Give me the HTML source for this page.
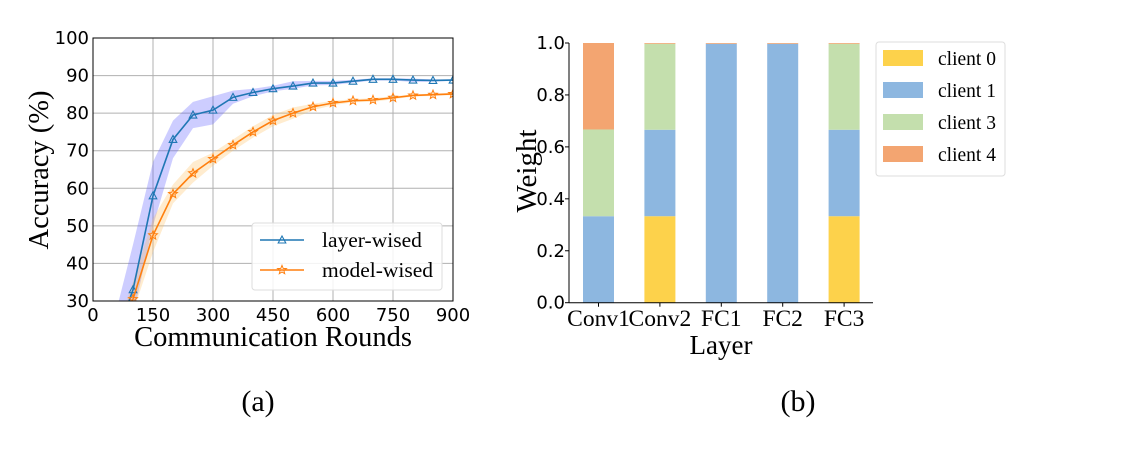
<!DOCTYPE html>
<html><head><meta charset="utf-8"><style>
html,body{margin:0;padding:0;background:#fff;}
svg{display:block;}
.tk{font-family:"DejaVu Sans","Liberation Sans",sans-serif;font-size:18px;fill:#000;}
.sf{font-family:"Liberation Serif",serif;fill:#000;}
</style></head><body>
<svg id="fig" width="1125" height="451" viewBox="0 0 1125 451">
<defs><clipPath id="clipA"><rect x="93" y="38" width="360" height="263"/></clipPath></defs>
<g id="chartA"></g>
<g id="chartB"></g>
<text class="sf" x="258" y="411" font-size="30" text-anchor="middle">(a)</text>
<text class="sf" x="798" y="411" font-size="30" text-anchor="middle">(b)</text>
</svg>
<script>
// Chart A data
const rounds = [50,100,150,200,250,300,350,400,450,500,550,600,650,700,750,800,850,900];
const layerAcc = [18,33,58,73,79.5,80.8,84.2,85.5,86.5,87.2,88,88,88.5,89,89,88.8,88.7,88.8];
const layerHi = [24,45,67,78,83,84.5,86,86.5,87.3,88.5,88.6,88.6,88.9,89.3,89.3,89.2,89,89];
const layerLo = [14,26,50,68,76,77,82.5,84.5,85.8,86.5,87.4,87.5,88.1,88.7,88.7,88.3,88.4,88.6];
const modelAcc = [17,30.5,47.5,58.5,64,67.8,71.5,75,78,80,81.7,82.7,83.3,83.5,84.1,84.7,84.9,85.1];
const modelHi = [20,35,52,61,67,69.5,73,76.5,79.5,81.5,82.5,83.3,83.7,84,84.5,85,85.2,85.4];
const modelLo = [14,27,43,56,61.5,66,70,73.5,76.5,78.5,80.8,82.1,82.9,83,83.7,84.4,84.6,84.8];
const xTicksA = [0,150,300,450,600,750,900];
const yTicksA = [30,40,50,60,70,80,90,100];
// Chart B data
const layers = ["Conv1","Conv2","FC1","FC2","FC3"];
const clients = ["client 0","client 1","client 3","client 4"];
const clientColors = ["#fdd24b","#8db7e0","#c4dfad","#f3a571"];
const w0 = [0,0.333,0,0,0.333];
const w1 = [0.333,0.333,0.997,0.997,0.333];
const w3 = [0.334,0.331,0,0,0.331];
const w4 = [0.333,0.003,0.003,0.003,0.003];
const yTicksB = [0,0.2,0.4,0.6,0.8,1.0];

const NS="http://www.w3.org/2000/svg";
function mk(parent,tag,attrs,txt){const e=document.createElementNS(NS,tag);for(const k in attrs)e.setAttribute(k,attrs[k]);if(txt!==undefined)e.textContent=txt;parent.appendChild(e);return e;}

// ---- Chart A ----
const A=document.getElementById('chartA');
const ax=v=>93+v/900*360, ay=v=>301-(v-30)/70*263;
xTicksA.forEach(t=>{const l=mk(A,'line',{x1:ax(t),x2:ax(t),y1:38,y2:301,stroke:'#b0b0b0','stroke-width':1});


const tx=mk(A,'text',{class:'tk',x:ax(t),y:321,'text-anchor':'middle'},String(t));

});
yTicksA.forEach(t=>{const l=mk(A,'line',{x1:93,x2:453,y1:ay(t),y2:ay(t),stroke:'#b0b0b0','stroke-width':1});


const tx=mk(A,'text',{class:'tk',x:89,y:ay(t)+6,'text-anchor':'end'},String(t));

});
const cg=mk(A,'g',{'clip-path':'url(#clipA)'});
function band(hi,lo,fill,name){let d='M'+rounds.map((r,i)=>ax(r)+','+ay(hi[i])).join('L');
for(let i=rounds.length-1;i>=0;i--)d+='L'+ax(rounds[i])+','+ay(lo[i]);
const p=mk(cg,'path',{d:d+'Z',fill:fill,'fill-opacity':0.3});

}
band(layerHi,layerLo,'#5b5bff','layer-wised-band');
band(modelHi,modelLo,'#ffc060','model-wised-band');
function line(vals,col,name,marker){const p=mk(cg,'polyline',{points:rounds.map((r,i)=>ax(r)+','+ay(vals[i])).join(' '),fill:'none',stroke:col,'stroke-width':1.6});


rounds.forEach((r,i)=>{const m=marker(cg,ax(r),ay(vals[i]),col);

});}
function tri(g,x,y,c){return mk(g,'path',{d:`M${x},${y-4}L${x+3.8},${y+3}L${x-3.8},${y+3}Z`,fill:'none',stroke:c,'stroke-width':1.1});}
function star(g,x,y,c){let d='';for(let k=0;k<10;k++){const r=k%2?2:4.6,a=-Math.PI/2+k*Math.PI/5;d+=(k?'L':'M')+(x+r*Math.cos(a)).toFixed(1)+','+(y+r*Math.sin(a)).toFixed(1);}return mk(g,'path',{d:d+'Z',fill:'none',stroke:c,'stroke-width':1});}
line(layerAcc,'#1f77b4','layer-wised-line',tri);
line(modelAcc,'#ff7f0e','model-wised-line',star);
mk(A,'rect',{x:93,y:38,width:360,height:263,fill:'none',stroke:'#000','stroke-width':1});
// legend A
const lg=mk(A,'g',{});


mk(lg,'rect',{x:252,y:223,width:190,height:67,rx:3,fill:'#fff','fill-opacity':0.85,stroke:'#ddd'});
mk(lg,'line',{x1:260,x2:304,y1:240,y2:240,stroke:'#1f77b4','stroke-width':1.6});tri(lg,282,240,'#1f77b4');
mk(lg,'text',{class:'sf',x:322,y:247,'font-size':21.5},'layer-wised');
mk(lg,'line',{x1:260,x2:304,y1:270,y2:270,stroke:'#ff7f0e','stroke-width':1.6});star(lg,282,270,'#ff7f0e');
mk(lg,'text',{class:'sf',x:322,y:277,'font-size':21.5},'model-wised');
const xt=mk(A,'text',{class:'sf',x:273,y:346,'font-size':28.5,'text-anchor':'middle'},'Communication Rounds');


const yt=mk(A,'text',{class:'sf',x:0,y:0,'font-size':28.5,'text-anchor':'middle',transform:'translate(48,170) rotate(-90)'},'Accuracy (%)');



// ---- Chart B ----
const B=document.getElementById('chartB');
const bx=i=>598.5+i*61.4, by=v=>302.7-v*259.7, bw=31;
yTicksB.forEach(t=>{mk(B,'line',{x1:565,x2:569,y1:by(t),y2:by(t),stroke:'#000'});
const tx=mk(B,'text',{class:'tk',x:565,y:by(t)+6,'text-anchor':'end'},t.toFixed(1));

});
const series=[w0,w1,w3,w4];
layers.forEach((L,i)=>{let base=0;series.forEach((s,k)=>{if(s[i]>0){const r=mk(B,'rect',{x:bx(i)-bw/2,y:by(base+s[i]),width:bw,height:by(base)-by(base+s[i]),fill:clientColors[k]});

}base+=s[i];});
mk(B,'line',{x1:bx(i),x2:bx(i),y1:302.7,y2:306.7,stroke:'#000'});
const tx=mk(B,'text',{class:'sf',x:bx(i),y:326,'font-size':23.5,'text-anchor':'middle'},L);

});
mk(B,'line',{x1:569,x2:569,y1:43,y2:302.7,stroke:'#000'});
mk(B,'line',{x1:569,x2:873,y1:302.7,y2:302.7,stroke:'#000'});
const bxt=mk(B,'text',{class:'sf',x:721,y:354,'font-size':27,'text-anchor':'middle'},'Layer');


const byt=mk(B,'text',{class:'sf',x:0,y:0,'font-size':29,'text-anchor':'middle',transform:'translate(536,171) rotate(-90)'},'Weight');


const lb=mk(B,'g',{});


mk(lb,'rect',{x:876,y:42,width:129,height:134,rx:3,fill:'#fff',stroke:'#ddd'});
clients.forEach((c,k)=>{const yy=58+k*32;mk(lb,'rect',{x:883,y:yy-8,width:40,height:16,fill:clientColors[k]});
const e=mk(lb,'text',{class:'sf',x:938,y:yy+7,'font-size':19.5},c);

});
</script>
</body></html>
